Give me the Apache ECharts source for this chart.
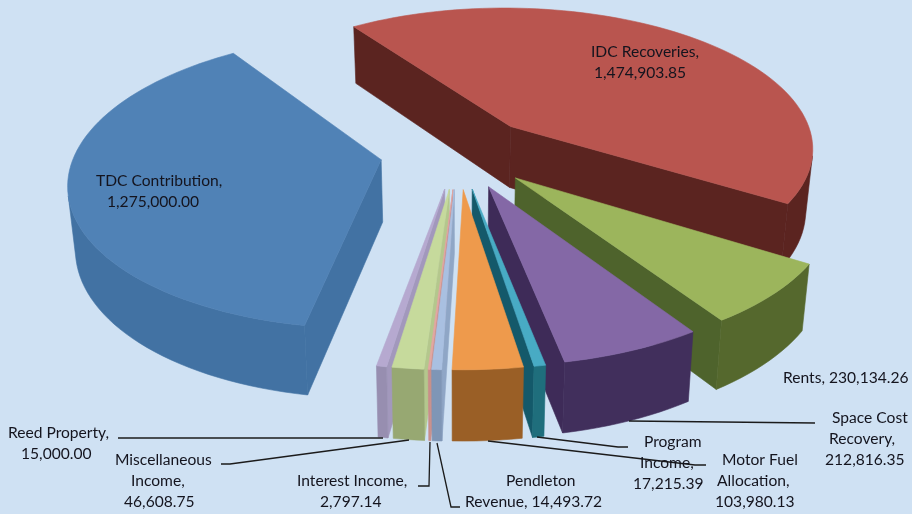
<!DOCTYPE html>
<html><head><meta charset="utf-8">
<style>html,body{margin:0;padding:0;background:#cfe1f3}#c{width:912px;height:514px}</style>
<script src="https://cdn.jsdelivr.net/npm/echarts@6/dist/echarts.min.js"></script>
</head><body><div id="c"></div>
<script>
const categories = ['IDC Recoveries','Rents','Space Cost Recovery','Program Income','Motor Fuel Allocation','Pendleton Revenue','Interest Income','Miscellaneous Income','Reed Property','TDC Contribution'];
const values = [1474903.85,230134.26,212816.35,17215.39,103980.13,14493.72,2797.14,46608.75,15000.00,1275000.00];
const topColors = ['#b9554f','#9cb55c','#8468a6','#48abc4','#ee9a4c','#a9c0e1','#e3a6a2','#c6da9c','#b6a9d0','#5082b6'];
const wallColors = ['#5b2420','#55682d','#412f5c','#1f6e7c','#9a5f26','#7f96b6','#c98e8a','#97a872','#978eb0','#4272a3'];
const radialColors = ['#5b2420','#4e632c','#3e2b58','#14596a','#9a5f26','#8fa6c6','#c98e8a','#b4c78d','#a298bc','#4272a3'];

// projection of the exploded pie
const cx=458, cy=152, k=0.465, persp=0.00047, R=306, explode=78, H=62, floorScale=0.98, startDeg=-34.5;

// label lines: [text, left x, centre y]
const labelLines = [
 ['TDC Contribution,',96,181],['1,275,000.00',107,202],
 ['IDC Recoveries,',591,52],['1,474,903.85',594,73],
 ['Rents, 230,134.26',783,378],
 ['Space Cost',832,418],['Recovery,',829,439],['212,816.35',825,460],
 ['Program',644,442],['Income,',640,463],['17,215.39',633,484],
 ['Motor Fuel',722,460],['Allocation,',717,481],['103,980.13',715,502],
 ['Pendleton',506,481],['Revenue, 14,493.72',465,502],
 ['Interest Income,',297,481],['2,797.14',320,502],
 ['Miscellaneous',115,460],['Income,',131,481],['46,608.75',124,502],
 ['Reed Property,',8,433],['15,000.00',21,454]
];
const leaders = [
 [[118,438],[383,438]],
 [[221,464],[230,464],[409,440]],
 [[418,486],[429,486],[430,442]],
 [[437,443],[451,507],[460,507]],
 [[488,441],[695,465],[706,465]],
 [[537,437],[618,447],[628,447]],
 [[629,421],[815,423]]
];

const total = values.reduce((a,b)=>a+b,0);
let acc = startDeg;
const slices = values.map((v,i)=>{
  const a0=acc, a1=acc+v/total*360; acc=a1;
  return {i,a0,a1,mid:(a0+a1)/2};
});
const rowDist = s => Math.abs(((s.mid%360)+360)%360-180);
const paint = slices.slice().sort((a,b)=>rowDist(b)-rowDist(a));
const rad = d=>d*Math.PI/180;

function proj(X,Y,floor){
  const s=1/(1-persp*Y);
  const sx=X*s, sy=k*Y*s;
  return floor ? [cx+sx*floorScale, cy+sy*floorScale+H*s] : [cx+sx, cy+sy];
}
function area2(p){let a=0;for(let i=0;i<p.length;i++){const q=p[(i+1)%p.length];a+=p[i][0]*q[1]-q[0]*p[i][1];}return a;}

function renderItem(params, api){
  const s = slices[api.value(0)];
  const ox=explode*Math.sin(rad(s.mid)), oy=-explode*Math.cos(rad(s.mid));
  const pt=(deg,r)=>[ox+r*Math.sin(rad(deg)), oy-r*Math.cos(rad(deg))];
  const n=Math.max(2,Math.ceil((s.a1-s.a0)/2));
  const arc=[]; for(let j=0;j<=n;j++) arc.push(pt(s.a0+(s.a1-s.a0)*j/n,R));
  const tip=[ox,oy];
  const top=p=>proj(p[0],p[1],false), bot=p=>proj(p[0],p[1],true);
  const children=[];
  const poly=(points,color)=>children.push({type:'polygon',shape:{points},style:{fill:color,stroke:color,lineWidth:0.6}});
  // radial walls
  const w0=[top(tip),top(arc[0]),bot(arc[0]),bot(tip)];
  const w1=[top(arc[n]),top(tip),bot(tip),bot(arc[n])];
  if(area2(w0)<0) poly(w0,radialColors[s.i]);
  if(area2(w1)<0) poly(w1,radialColors[s.i]);
  // outer wall: only the part facing the viewer
  const run=[];
  for(let j=0;j<n;j++){
    const q=[top(arc[j]),top(arc[j+1]),bot(arc[j+1]),bot(arc[j])];
    if(area2(q)<0){ if(!run.length) run.push(j); run.push(j+1); }
  }
  if(run.length){
    const up=run.map(j=>top(arc[j])), dn=run.slice().reverse().map(j=>bot(arc[j]));
    poly(up.concat(dn),wallColors[s.i]);
  }
  poly([top(tip)].concat(arc.map(top)),topColors[s.i]);
  return {type:'group',children};
}

const chart = echarts.init(document.getElementById('c'),null,{renderer:'canvas'});
const graphics = [];
leaders.forEach(l=>graphics.push({type:'polyline',silent:true,z:20,shape:{points:l},style:{stroke:'#1b1b1b',lineWidth:1.3,fill:null}}));
labelLines.forEach(t=>graphics.push({type:'text',silent:true,z:21,x:t[1],y:t[2],style:{text:t[0],font:'15.6px Lato',fill:'#14141e',textAlign:'left',textVerticalAlign:'middle'}}));
chart.setOption({
  backgroundColor:'#cfe1f3',
  animation:false,
  series:[{type:'custom',coordinateSystem:'none',renderItem,silent:true,
    data:paint.map(s=>({name:categories[s.i],value:[s.i,values[s.i]]}))}],
  graphic:{elements:graphics}
});
</script></body></html>
